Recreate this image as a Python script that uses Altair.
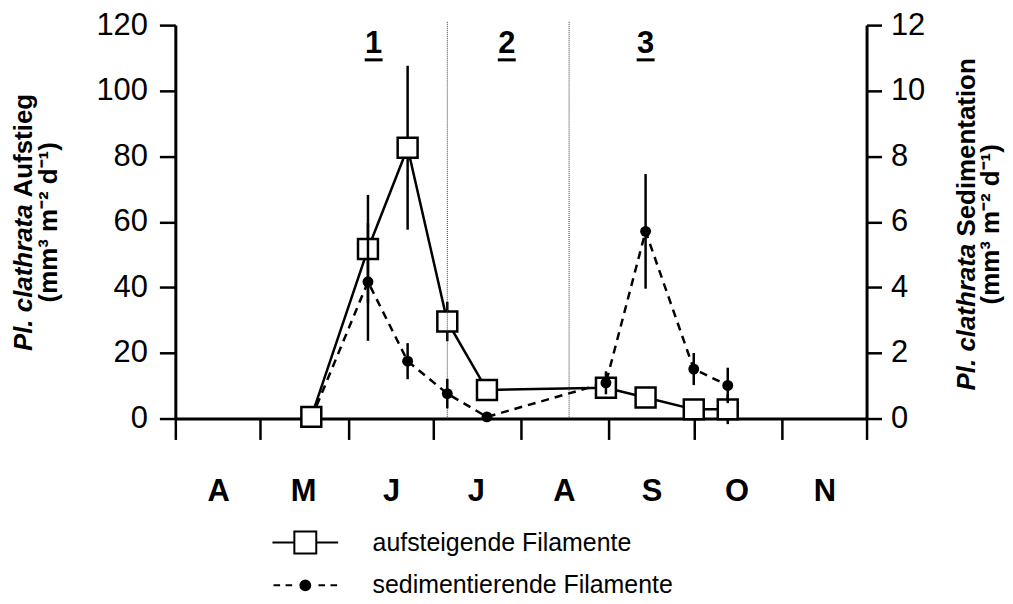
import json
import altair as alt
import pandas as pd

# ---------------- data ----------------
dates = ["1998-05-19", "1998-06-08", "1998-06-22", "1998-07-06", "1998-07-20",
         "1998-08-31", "1998-09-14", "1998-10-01", "1998-10-13"]
aufstieg = [0.5, 51.7, 82.6, 29.6, 8.7, 9.4, 6.4, 2.8, 2.8]
aufstieg_err = [0, 16.5, 25.0, 6.0, 0, 0, 0, 0, 4.5]
sediment = [0.0, 4.17, 1.75, 0.76, 0.05, 1.09, 5.71, 1.51, 1.01]
sediment_err = [0, 1.8, 0.55, 0.45, 0, 0.35, 1.75, 0.49, 0.54]

period_labels = ["1", "2", "3"]
period_dates = ["1998-06-10", "1998-07-27", "1998-09-14"]
boundary_dates = ["1998-07-06", "1998-08-18"]
month_labels = ["A", "M", "J", "J", "A", "S", "O", "N"]
series_names = ["aufsteigende Filamente", "sedimentierende Filamente"]

left_title = ["Pl. clathrata", "Aufstieg", "(mm³ m⁻² d⁻¹)"]
right_title = ["Pl. clathrata", "Sedimentation", "(mm³ m⁻² d⁻¹)"]

FONT = "Liberation Sans"

# ---------------- tables ----------------
asc = pd.DataFrame({"date": dates, "v": aufstieg, "err": aufstieg_err})
asc["lo"] = asc["v"] - asc["err"]
asc["hi"] = asc["v"] + asc["err"]
asc_e = asc[asc["err"] > 0]

sed = pd.DataFrame({"date": dates, "v": sediment, "err": sediment_err})
sed["lo"] = sed["v"] - sed["err"]
sed["hi"] = sed["v"] + sed["err"]
sed_e = sed[sed["err"] > 0]
sed_pts = sed.iloc[1:]

periods = pd.DataFrame({"date": period_dates, "label": period_labels})
bounds = pd.DataFrame({"date": boundary_dates})
legend_df = pd.DataFrame({"s": series_names})


def dt(m, d):
    return alt.DateTime(year=1998, month=m, date=d, utc=True)


label_expr = json.dumps(month_labels + [""]) + "[utcmonth(datum.value) - 3]"
x_axis = alt.Axis(values=[dt(m, 1) for m in range(4, 13)], labelExpr=label_expr,
                  labelOffset=43, labelFontSize=31, labelFontWeight="bold",
                  labelBaseline="alphabetic", labelPadding=61, tickSize=21,
                  labelFlush=False, labelOverlap=False, grid=False)
X = alt.X("date:T", scale=alt.Scale(type="utc", domain=[dt(4, 1), dt(12, 1)]),
          axis=x_axis, title=None)

left_axis = alt.Axis(orient="left", values=list(range(0, 121, 20)), tickSize=16,
                     labelPadding=12, labelFontSize=31, grid=False)
right_axis = alt.Axis(orient="right", values=list(range(0, 13, 2)), tickSize=15,
                      labelPadding=9, labelFontSize=31, grid=False)
left_scale = alt.Scale(domain=[0, 120])
right_scale = alt.Scale(domain=[0, 12])

LW = 2.5

# ---------------- group A: dashed sedimentation line (behind squares) ----------------
sed_line = alt.Chart(sed).mark_line(color="black", strokeWidth=LW, strokeDash=[8, 6]).encode(
    x=X, y=alt.Y("v:Q", scale=right_scale, axis=None, title=None))

# ---------------- group B: ascending filaments (left axis) ----------------
YL = alt.Y("v:Q", scale=left_scale, axis=left_axis, title=None)
asc_err_rule = alt.Chart(asc_e).mark_rule(color="black", strokeWidth=LW).encode(
    x=X, y=alt.Y("lo:Q", scale=left_scale, axis=left_axis, title=None), y2="hi:Q")
asc_line = alt.Chart(asc).mark_line(color="black", strokeWidth=LW).encode(x=X, y=YL)
asc_pts = alt.Chart(asc).mark_point(shape="square", size=400, filled=True, fill="white",
                                    stroke="black", strokeWidth=LW, opacity=1).encode(x=X, y=YL)
sep_rules = alt.Chart(bounds).mark_rule(color="#333333", strokeWidth=1, strokeDash=[1, 1]).encode(
    x=X, y=alt.datum(121), y2=alt.datum(0))
period_text = alt.Chart(periods).mark_text(font=FONT, fontSize=31, fontWeight="bold",
                                           baseline="alphabetic", color="black").encode(
    x=X, y=alt.datum(111.4), text="label:N")
period_line = alt.Chart(periods).mark_tick(orient="horizontal", size=18, thickness=3,
                                           color="black", opacity=1).encode(
    x=X, y=alt.datum(109.4))

legend = alt.Legend(orient="none", legendX=118, legendY=507, title=None, labelFont=FONT,
                    labelFontSize=25, labelColor="black", labelLimit=500,
                    symbolSize=484, symbolStrokeColor="black", symbolStrokeWidth=2,
                    symbolOpacity=1, labelOffset=55, rowPadding=15, padding=0)
sq_path = "M-3,0H-1M1,0H3M-1,-1H1V1H-1Z"
ci_path = ("M-2.9,0H-2.3M-1.8,0H-1.2M1.2,0H1.8M2.3,0H2.9"
           "M-0.45,0A0.45,0.45,0,1,1,0.45,0A0.45,0.45,0,1,1,-0.45,0Z")
legend_layer = alt.Chart(legend_df).mark_point(opacity=0, strokeWidth=2).encode(
    shape=alt.Shape("s:N", scale=alt.Scale(domain=series_names, range=[sq_path, ci_path]),
                    legend=legend),
    fill=alt.Fill("s:N", scale=alt.Scale(domain=series_names, range=["white", "black"]),
                  legend=legend),
    stroke=alt.Stroke("s:N", scale=alt.Scale(domain=series_names, range=["black", "black"]),
                      legend=legend))


def title_piece(txt, x, y, align, style="normal"):
    return alt.Chart(pd.DataFrame({"t": [txt]})).mark_text(
        font=FONT, fontSize=26, fontWeight="bold", fontStyle=style, angle=270,
        align=align, baseline="middle", color="black").encode(
        x=alt.value(x), y=alt.value(y), text="t:N")


titles = [
    title_piece(left_title[0], -152, 180, "right", "italic"),
    title_piece(left_title[1], -152, 173, "left"),
    title_piece(left_title[2], -127, 198, "center"),
    title_piece(right_title[0], 795, 219.5, "right", "italic"),
    title_piece(right_title[1], 795, 212.3, "left"),
    title_piece(right_title[2], 819, 200, "center"),
]

group_b = alt.layer(asc_err_rule, asc_line, asc_pts, sep_rules, period_text, period_line,
                    legend_layer, *titles)

# ---------------- group C: sedimenting filaments (right axis) ----------------
YR = alt.Y("v:Q", scale=right_scale, axis=right_axis, title=None)
sed_err_rule = alt.Chart(sed_e).mark_rule(color="black", strokeWidth=LW).encode(
    x=X, y=alt.Y("lo:Q", scale=right_scale, axis=right_axis, title=None), y2="hi:Q")
sed_points = alt.Chart(sed_pts).mark_circle(size=120, color="black", opacity=1).encode(x=X, y=YR)
group_c = alt.layer(sed_err_rule, sed_points)

chart = alt.layer(sed_line, group_b, group_c).resolve_scale(
    y="independent", shape="independent", fill="independent", stroke="independent"
).properties(
    width=694, height=395,
    padding={"left": 168, "top": 16, "right": 139, "bottom": 178},
    autosize=alt.AutoSizeParams(type="none"),
).configure(font=FONT).configure_view(stroke=None).configure_axis(
    domainColor="black", tickColor="black", labelColor="black", domainWidth=3,
    tickWidth=2.5, labelFont=FONT, grid=False)

chart.save("out.html", embed_options={"renderer": "svg", "actions": False})
